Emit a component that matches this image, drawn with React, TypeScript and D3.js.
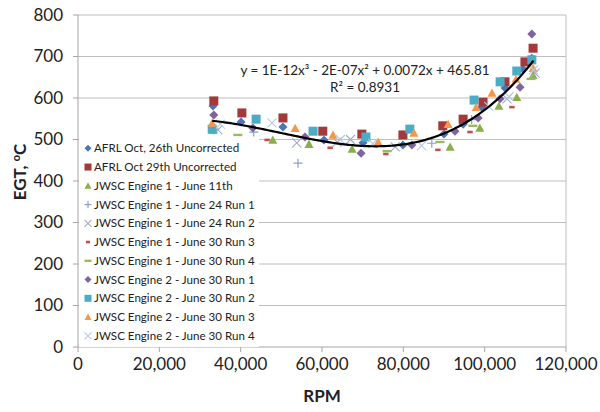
import React from 'react';
import * as d3 from 'd3';

// ---------- data ----------
const xTickValues = [0, 20000, 40000, 60000, 80000, 100000, 120000];
const yTickValues = [0, 100, 200, 300, 400, 500, 600, 700, 800];

const seriesNames = [
  'AFRL Oct, 26th Uncorrected',
  'AFRL Oct 29th Uncorrected',
  'JWSC Engine 1 - June 11th',
  'JWSC Engine 1 - June 24 Run 1',
  'JWSC Engine 1 - June 24 Run 2',
  'JWSC Engine 1 - June 30 Run 3',
  'JWSC Engine 1 - June 30 Run 4',
  'JWSC Engine 2 - June 30 Run 1',
  'JWSC Engine 2 - June 30 Run 2',
  'JWSC Engine 2 - June 30 Run 3',
  'JWSC Engine 2 - June 30 Run 4',
];

const afrl26Rpm = [33200, 40100, 50400, 60500, 70100, 79900, 90000, 94700, 99300, 105000, 109400, 111600];
const afrl26Egt = [581, 542, 530, 499, 492, 487, 513, 537, 578, 624, 670, 696];

const afrl29Rpm = [33400, 40300, 50400, 60200, 69800, 79900, 89700, 94700, 99600, 105000, 109900, 111900];
const afrl29Egt = [593, 564, 552, 520, 513, 511, 533, 549, 590, 639, 687, 720];

const e1Jun11Rpm = [47900, 56800, 67400, 91500, 98800, 103500, 107900, 111900];
const e1Jun11Egt = [499, 489, 477, 482, 528, 581, 602, 655];

const e1Jun24R1Rpm = [33600, 43200, 54100, 87000, 96800];
const e1Jun24R1Egt = [525, 518, 443, 491, 548];

const e1Jun24R2Rpm = [34400, 53800, 63700, 67000, 78000, 105500, 112400];
const e1Jun24R2Egt = [523, 492, 494, 500, 482, 598, 660];

const e1Jun30R3Rpm = [46500, 62000, 75700, 88500, 96400, 106700];
const e1Jun30R3Egt = [499, 480, 465, 475, 518, 578];

const e1Jun30R4Rpm = [33200, 39300, 76000, 89000, 97100, 111400];
const e1Jun30R4Egt = [516, 511, 472, 494, 533, 646];

const e2Jun30R1Rpm = [33400, 43000, 55800, 69600, 82100, 92700, 98400, 103800, 108700, 111600];
const e2Jun30R1Egt = [559, 528, 506, 467, 487, 520, 552, 598, 626, 754];

const e2Jun30R2Rpm = [33000, 43800, 57800, 70800, 81600, 97400, 103800, 107900, 111600];
const e2Jun30R2Egt = [525, 549, 520, 506, 525, 595, 639, 665, 692];

const e2Jun30R3Rpm = [33000, 53400, 62700, 73800, 82600, 91000, 97900, 101800, 107700, 111900];
const e2Jun30R3Egt = [540, 527, 511, 494, 516, 537, 578, 612, 646, 672];

const e2Jun30R4Rpm = [35000, 47700, 64500, 72500, 84500, 101000, 106000, 112000];
const e2Jun30R4Egt = [537, 540, 500, 490, 485, 580, 603, 668];

// cubic trendline coefficients (displayed rounded in the label)
const trendCoef = [1.253e-12, -1.8675e-7, 0.0072, 465.81];
const trendRange = [33000, 112000];

// ---------- styles ----------
type Shape = 'diamond' | 'square' | 'triangle' | 'plus' | 'x' | 'dash' | 'longdash';
const shapes: Shape[] = ['diamond', 'square', 'triangle', 'plus', 'x', 'dash', 'longdash', 'diamond', 'square', 'triangle', 'x'];
const colors = ['#4A76B8', '#A3393A', '#8AAE4A', '#8AA0CB', '#A3ABCB', '#C0504D', '#9BBB59', '#8064A2', '#4BACC6', '#F79646', '#B9C8E2'];

const seriesRpm = [afrl26Rpm, afrl29Rpm, e1Jun11Rpm, e1Jun24R1Rpm, e1Jun24R2Rpm, e1Jun30R3Rpm, e1Jun30R4Rpm, e2Jun30R1Rpm, e2Jun30R2Rpm, e2Jun30R3Rpm, e2Jun30R4Rpm];
const seriesEgt = [afrl26Egt, afrl29Egt, e1Jun11Egt, e1Jun24R1Egt, e1Jun24R2Egt, e1Jun30R3Egt, e1Jun30R4Egt, e2Jun30R1Egt, e2Jun30R2Egt, e2Jun30R3Egt, e2Jun30R4Egt];

const FONT = 'Lato, "Open Sans", sans-serif';

function Marker({ shape, color, x, y, s }: { shape: Shape; color: string; x: number; y: number; s: number }) {
  const h = s / 2;
  switch (shape) {
    case 'diamond':
      return <path d={`M${x},${y - h}L${x + h},${y}L${x},${y + h}L${x - h},${y}Z`} fill={color} />;
    case 'square':
      return <rect x={x - h} y={y - h} width={s} height={s} fill={color} />;
    case 'triangle':
      return <path d={`M${x},${y - h}L${x + h},${y + h * 0.85}L${x - h},${y + h * 0.85}Z`} fill={color} />;
    case 'plus':
      return <path d={`M${x - h},${y}H${x + h}M${x},${y - h}V${y + h}`} stroke={color} strokeWidth={1.2} fill="none" />;
    case 'x':
      return <path d={`M${x - h},${y - h}L${x + h},${y + h}M${x - h},${y + h}L${x + h},${y - h}`} stroke={color} strokeWidth={1.1} fill="none" />;
    case 'dash':
      return <rect x={x - s * 0.3} y={y - 1.3} width={s * 0.6} height={2.6} fill={color} />;
    case 'longdash':
      return <rect x={x - h} y={y - 1.2} width={s} height={2.4} fill={color} />;
  }
  return null;
}

export default function App() {
  const W = 600, H = 412;
  const left = 78, right = 566, top = 15, bottom = 347;
  const x = d3.scaleLinear().domain([0, 120000]).range([left, right]);
  const y = d3.scaleLinear().domain([0, 800]).range([bottom, top]);
  const fmt = d3.format(',');

  const poly = (r: number) => trendCoef[0] * r ** 3 + trendCoef[1] * r ** 2 + trendCoef[2] * r + trendCoef[3];
  const trendPts = d3.range(trendRange[0], trendRange[1] + 1, 500).map((r) => [r, poly(r)] as [number, number]);
  const line = d3.line<[number, number]>().x((d) => x(d[0])).y((d) => y(d[1])).curve(d3.curveLinear);

  const legX = 79, legY = 137, legW = 180, legH = 210;
  const legRow0 = 148.3, legStep = 18.75;

  return (
    <svg width={W} height={H} style={{ position: 'absolute', left: 0, top: 0, background: '#fff' }} fontFamily={FONT}>
      <rect x={0} y={0} width={W} height={H} fill="#fff" />
      {/* gridlines */}
      {yTickValues.filter((v) => v > 0).map((v) => (
        <line key={'g' + v} x1={left} x2={right} y1={y(v)} y2={y(v)} stroke="#BEBEBE" strokeWidth={1} />
      ))}
      <line x1={right} x2={right} y1={top} y2={bottom} stroke="#BEBEBE" strokeWidth={1} />
      {/* axes */}
      <line x1={left} x2={left} y1={top} y2={bottom} stroke="#A6A6A6" strokeWidth={1} />
      <line x1={left} x2={right} y1={bottom} y2={bottom} stroke="#A6A6A6" strokeWidth={1} />
      {yTickValues.map((v) => (
        <g key={'yt' + v}>
          <line x1={left - 5} x2={left} y1={y(v)} y2={y(v)} stroke="#A6A6A6" />
          <text x={63} y={y(v)} dy="0.35em" textAnchor="end" fontSize={17} fill="#222">{v}</text>
        </g>
      ))}
      {xTickValues.map((v) => (
        <g key={'xt' + v}>
          <line x1={x(v)} x2={x(v)} y1={bottom} y2={bottom + 5} stroke="#A6A6A6" />
          <text x={x(v)} y={370} textAnchor="middle" fontSize={17} fill="#222">{fmt(v)}</text>
        </g>
      ))}
      {/* axis titles */}
      <text x={322} y={402} textAnchor="middle" fontSize={17} fontWeight="bold" fill="#222">RPM</text>
      <text transform={`translate(26,172) rotate(-90)`} textAnchor="middle" fontSize={17} fontWeight="bold" fill="#222">
        EGT, <tspan fontSize={11} dy={-6}>o</tspan><tspan dy={6}>C</tspan>
      </text>
      {/* series */}
      {seriesRpm.map((rpms, si) => (
        <g key={'s' + si}>
          {rpms.map((r, i) => (
            <Marker key={i} shape={shapes[si]} color={colors[si]} x={x(r)} y={y(seriesEgt[si][i])} s={9} />
          ))}
        </g>
      ))}
      {/* trendline */}
      <path d={line(trendPts) || ''} fill="none" stroke="#000" strokeWidth={2.2} />
      {/* equation */}
      <text x={365} y={75} textAnchor="middle" fontSize={13.5} fill="#222">y = 1E-12x³ - 2E-07x² + 0.0072x + 465.81</text>
      <text x={365} y={92} textAnchor="middle" fontSize={13.5} fill="#222">R² = 0.8931</text>
      {/* legend */}
      <rect x={legX} y={legY} width={legW} height={legH} fill="#fff" />
      {seriesNames.map((n, i) => (
        <g key={'l' + i}>
          <Marker shape={shapes[i]} color={colors[i]} x={88} y={legRow0 + i * legStep} s={7} />
          <text x={94} y={legRow0 + i * legStep} dy="0.35em" fontSize={11.6} fill="#222">{n}</text>
        </g>
      ))}
    </svg>
  );
}
